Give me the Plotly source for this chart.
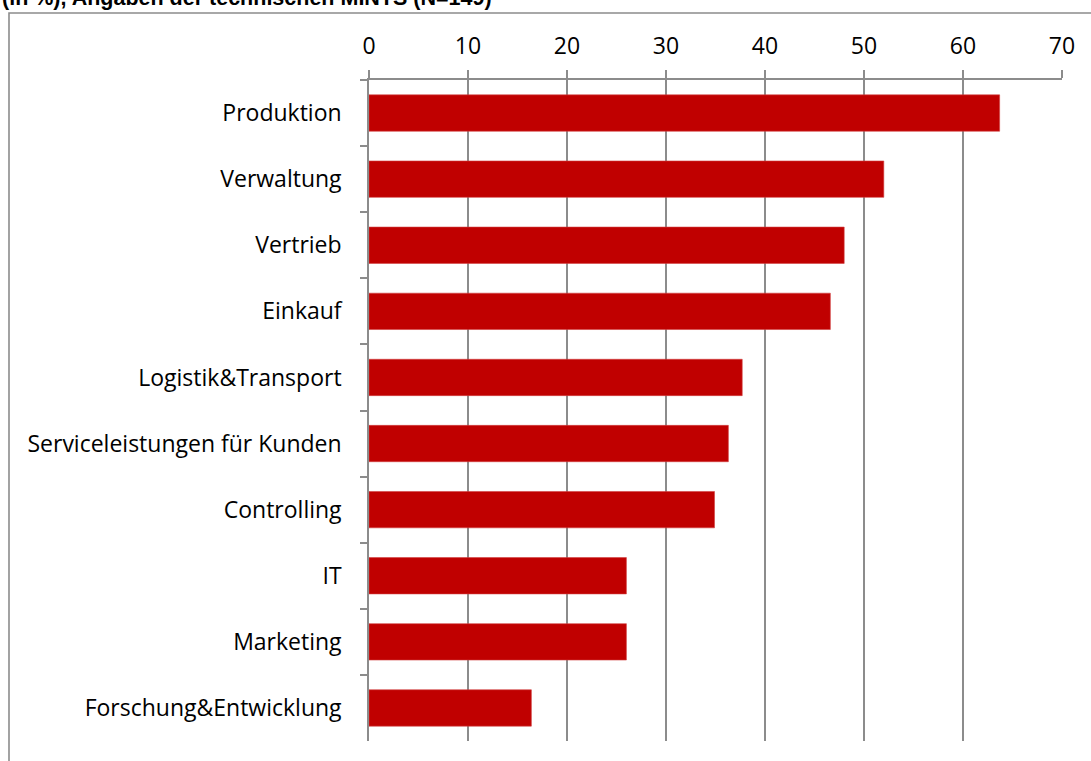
import plotly.graph_objects as go

categories = ["Produktion", "Verwaltung", "Vertrieb", "Einkauf", "Logistik&Transport",
              "Serviceleistungen für Kunden", "Controlling", "IT", "Marketing",
              "Forschung&Entwicklung"]
values = [63.7, 52.0, 48.0, 46.6, 37.7, 36.3, 34.9, 26.0, 26.0, 16.4]
x_ticks = [0, 10, 20, 30, 40, 50, 60, 70]
title_text = "(in %), Angaben der technischen MINTS (N=149)"

W, H = 1091, 761
L, R, T, B = 369, 29, 80, 20
pw, ph = W - L - R, H - T - B

def px_x(p):
    return (p - L) / pw

def px_y(p):
    return (H - B - p) / ph

fig = go.Figure(go.Bar(
    x=values, y=categories, orientation="h",
    marker=dict(color="#C00000", line=dict(color="#D24040", width=0.6)),
    width=0.55,
))

grid = "#8c8c8c"
font = dict(family="Open Sans", size=23, color="#000000")

fig.update_layout(
    width=W, height=H,
    margin=dict(l=L, r=R, t=T, b=B),
    paper_bgcolor="white", plot_bgcolor="white",
    showlegend=False,
    xaxis=dict(
        side="top", range=[0, 70], tickvals=x_ticks, ticktext=[str(v) for v in x_ticks],
        showgrid=True, gridcolor=grid, gridwidth=1.6,
        showline=True, linecolor=grid, linewidth=1.6,
        ticks="outside", ticklen=8, tickcolor=grid, tickwidth=1.6,
        tickfont=font, zeroline=False, fixedrange=True, ticklabelstandoff=7,
    ),
    yaxis=dict(
        categoryorder="array", categoryarray=categories, autorange="reversed",
        showgrid=False, showline=True, linecolor=grid, linewidth=1.6,
        ticks="outside", ticklen=7, tickcolor=grid, tickwidth=1.6,
        tickson="boundaries", tickfont=font, ticklabelstandoff=21,
        fixedrange=True,
    ),
    shapes=[dict(
        type="rect", xref="paper", yref="paper",
        x0=px_x(9), x1=px_x(W + 20), y0=px_y(H + 20), y1=px_y(13),
        line=dict(color="#8c8c8c", width=1.6), fillcolor="rgba(0,0,0,0)",
        layer="below",
    )],
    annotations=[dict(
        text=title_text, xref="paper", yref="paper",
        x=px_x(0), y=px_y(12), xanchor="left", yanchor="bottom",
        showarrow=False,
        font=dict(family="Liberation Sans", size=21.5, color="#000000", weight="bold"),
    )],
)

fig.write_html("out.html", config={"displayModeBar": False},
               post_script="document.body.style.margin='0';document.body.style.overflow='hidden';")
